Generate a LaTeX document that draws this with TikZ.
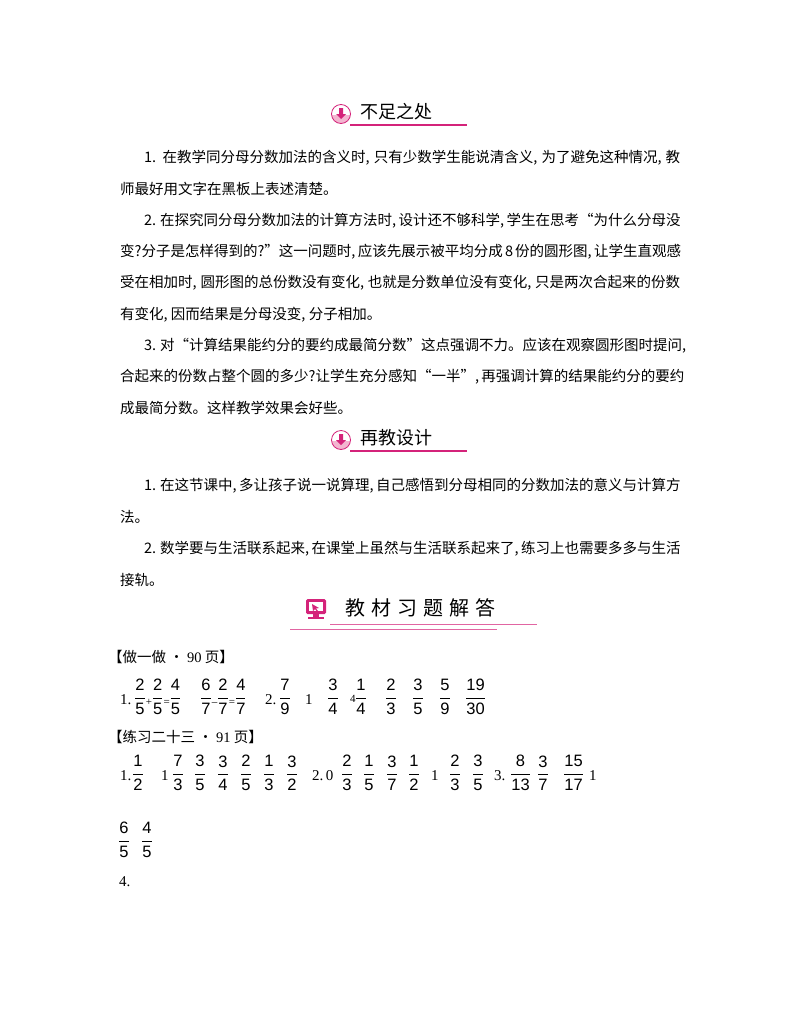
\documentclass[tikz,border=0pt]{standalone}
\usepackage{fontspec}
\usepackage{amsmath}
\setmainfont{Noto Sans CJK SC}
\setsansfont{Liberation Sans}
\newfontfamily\ser{Liberation Serif}
\XeTeXlinebreaklocale "zh"
\XeTeXlinebreakskip=0pt plus 3pt
\definecolor{mag}{HTML}{D4237A}
\definecolor{lpink}{HTML}{F3B5D0}
\newcommand{\fr}[2]{$\dfrac{\textsf{#1}}{\textsf{#2}}$}
\newcommand{\op}[1]{\raisebox{-3pt}{\fontsize{11}{11}\selectfont\ser #1}}
\newcommand{\fl}[1]{\hbox to 560pt{#1}}
\newcommand{\fk}[1]{\hbox to 536pt{#1}}
\begin{document}
\begin{tikzpicture}[x=1pt,y=-1pt,
  body/.style={anchor=west,inner sep=0,font=\fontsize{14.5}{16}\selectfont},
  frn/.style={anchor=west,inner sep=0,font=\fontsize{16.5}{18}\selectfont},
  num/.style={anchor=west,inner sep=0,font=\fontsize{15}{16}\selectfont\ser},
  hd/.style={anchor=west,inner sep=0,font=\fontsize{18}{20}\selectfont}]
\useasboundingbox (0,0) rectangle (800,1028);
% header icons
\foreach \yy/\nm in {114/a,440/b}{
  \begin{scope}
  \clip (341,\yy) circle (9.5);
  \fill[lpink] (330,\yy+1) rectangle (352,\yy+12);
  \end{scope}
  \draw[mag,line width=0.8pt] (341,\yy) circle (9.5);
  \fill[mag] (339,\yy-6) rectangle (343,\yy) -- (346,\yy) -- (341,\yy+5) -- (336,\yy) -- (339,\yy) -- cycle;
  \draw[mag,line width=1.3pt] (350,\yy+11) -- (467,\yy+11);
}
\node[hd] (h1) at (360,112) {不足之处};
\node[hd] (h2) at (360,438) {再教设计};
% header 3
\fill[mag,rounded corners=1.5pt] (306,599) rectangle (326,614);
\fill[white] (309,602) rectangle (323,611);
\fill[mag] (312,604) -- (319,608) -- (316,608.5) -- (318,611) -- (317,611.5) -- (315,609) -- (313,611) -- cycle;
\fill[mag] (313,614) rectangle (319,617);
\fill[mag] (308,617) rectangle (324,619);
\node[anchor=west,inner sep=0,font=\fontsize{20}{22}\selectfont] (h3) at (345,608) {教\hspace{6pt}材\hspace{6pt}习\hspace{6pt}题\hspace{6pt}解\hspace{6pt}答};
\draw[mag!70,line width=1pt] (330,624) -- (537,624);
\draw[mag!70,line width=1pt] (290,629) -- (497,629);
% paragraphs
\node[body] (p1) at (144,158) {\fk{1. 在教学同分母分数加法的含义时, 只有少数学生能说清含义, 为了避免这种情况, 教}};
\node[body] (p2) at (120,189) {师最好用文字在黑板上表述清楚。};
\node[body] (p3) at (144,221) {\fk{2. 在探究同分母分数加法的计算方法时, 设计还不够科学, 学生在思考“为什么分母没}};
\node[body] (p4) at (120,252) {\fl{变?分子是怎样得到的?”这一问题时, 应该先展示被平均分成 8 份的圆形图, 让学生直观感}};
\node[body] (p5) at (120,283) {\fl{受在相加时, 圆形图的总份数没有变化, 也就是分数单位没有变化, 只是两次合起来的份数}};
\node[body] (p6) at (120,315) {有变化, 因而结果是分母没变, 分子相加。};
\node[body] (p7) at (144,346) {\fk{3. 对“计算结果能约分的要约成最简分数”这点强调不力。应该在观察圆形图时提问,}};
\node[body] (p8) at (120,377) {\fl{合起来的份数占整个圆的多少?让学生充分感知“一半”, 再强调计算的结果能约分的要约}};
\node[body] (p9) at (120,408) {成最简分数。这样教学效果会好些。};
\node[body] (q1) at (144,486) {\fk{1. 在这节课中, 多让孩子说一说算理, 自己感悟到分母相同的分数加法的意义与计算方}};
\node[body] (q2) at (120,517) {法。};
\node[body] (q3) at (144,549) {\fk{2. 数学要与生活联系起来, 在课堂上虽然与生活联系起来了, 练习上也需要多多与生活}};
\node[body] (q4) at (120,580) {接轨。};
% exercises
\node[body] (e1) at (108,657) {【做一做 • {\ser 90} 页】};
\node[body] (e2) at (108,737) {【练习二十三 • {\ser 91} 页】};
\node[num] (r0) at (120,700) {1.};
\node[frn] (r1) at (134,697) {\fr{2}{5}\op{+}\fr{2}{5}\op{=}\fr{4}{5}};
\node[frn] (r2) at (200,697) {\fr{6}{7}\op{\textendash}\fr{2}{7}\op{=}\fr{4}{7}};
\node[num] (r3) at (265,700) {2.};
\node[frn] (r3b) at (279,697) {\fr{7}{9}};
\node[num] (r4) at (305,700) {1};
\node[frn] (r5) at (327,697) {\fr{3}{4}};
\node[num,font=\fontsize{11}{11}\selectfont\ser] (r6a) at (350,699) {4};
\node[frn] (r6) at (355,697) {\fr{1}{4}};
\foreach \xx/\a/\b [count=\i] in {385/2/3,412/3/5,439/5/9,465/19/30}
  \node[frn] (s\i) at (\xx,697) {\fr{\a}{\b}};
\node[num] (t0a) at (120,776) {1.};
\node[frn] (t0) at (132,773) {\fr{1}{2}};
\foreach \xx/\a/\b [count=\i] in {172/7/3,194/3/5,217/3/4,240/2/5,263/1/3,286/3/2,341/2/3,363/1/5,386/3/7,408/1/2,449/2/3,472/3/5,510/8/13,537/3/7,563/15/17}
  \node[frn] (t\i) at (\xx,773) {\fr{\a}{\b}};
\node[frn] (v1) at (118,840) {\fr{6}{5}};
\node[frn] (v2) at (141,840) {\fr{4}{5}};
\node[num] (u1) at (161,776) {1};
\node[num] (u2) at (312,776) {2.\,0};
\node[num] (u3) at (431,776) {1};
\node[num] (u4) at (494,776) {3.};
\node[num] (u5) at (589,776) {1};
\node[num] (u6) at (119,882) {4.};
\end{tikzpicture}
\end{document}
